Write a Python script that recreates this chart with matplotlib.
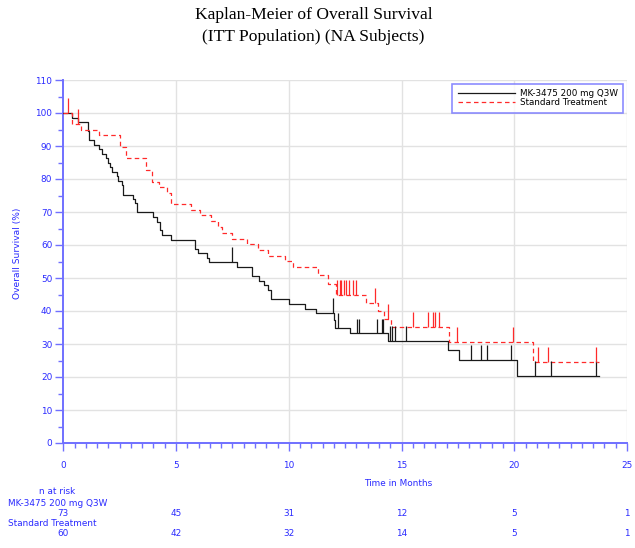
import numpy as np
import matplotlib
matplotlib.use("Agg")
import matplotlib.pyplot as plt
from matplotlib.lines import Line2D
from matplotlib.transforms import blended_transform_factory

# ---- data -------------------------------------------------------------
# MK-3475 200 mg Q3W arm: event times (months) and survival (%) after each step
mk_time = [0.0, 0.37, 0.64, 1.08, 1.15, 1.38, 1.60, 1.70, 1.90, 2.00, 2.07, 2.15,
           2.37, 2.44, 2.59, 2.66, 3.10, 3.18, 3.25, 3.99, 4.17, 4.29, 4.36, 4.76,
           5.84, 5.99, 6.39, 6.47, 7.72, 8.35, 8.69, 8.91, 9.09, 9.20, 10.02, 10.72,
           11.21, 12.00, 12.05, 12.71, 14.41, 17.07, 17.56, 20.11, 23.77]
mk_surv = [100.0, 98.6, 97.2, 94.5, 91.8, 90.4, 89.0, 87.7, 86.3, 84.9, 83.6, 82.2,
           80.8, 79.5, 78.1, 75.3, 74.0, 72.6, 69.9, 68.5, 67.1, 64.4, 63.0, 61.6,
           58.9, 57.5, 56.2, 54.8, 53.4, 50.6, 49.2, 47.8, 46.4, 43.6, 42.1, 40.7,
           39.3, 37.3, 34.8, 33.2, 30.9, 28.2, 25.2, 20.3, 20.3]
mk_censor = [7.47, 11.97, 12.20, 13.01, 13.13, 13.90, 14.12, 14.19, 14.49, 14.56,
             14.71, 15.18, 18.10, 18.51, 18.80, 19.84, 20.92, 21.63, 23.62]

# Standard Treatment arm
st_time = [0.0, 0.40, 0.78, 1.58, 2.51, 2.78, 3.65, 3.92, 4.26, 4.58, 4.78, 5.65,
           6.05, 6.53, 6.87, 7.02, 7.50, 8.13, 8.62, 9.08, 9.83, 10.20, 11.31, 11.72,
           12.08, 13.42, 13.97, 14.22, 14.52, 17.10, 20.82, 23.77]
st_surv = [100.0, 96.7, 94.9, 93.2, 89.7, 86.3, 82.7, 79.2, 77.5, 75.7, 72.4, 70.7,
           69.0, 67.3, 65.5, 63.7, 61.9, 60.2, 58.5, 56.8, 55.1, 53.4, 50.9, 48.2,
           44.8, 42.5, 40.1, 37.6, 35.2, 30.7, 24.6, 24.6]
st_censor = [0.19, 0.64, 12.13, 12.25, 12.32, 12.47, 12.54, 12.69, 12.84, 12.99,
             13.82, 14.41, 15.52, 16.19, 16.38, 16.48, 16.67, 17.44, 19.93, 21.04,
             21.51, 23.61]

arm_names = ["MK-3475 200 mg Q3W", "Standard Treatment"]
risk_times = [0, 5, 10, 15, 20, 25]
mk_at_risk = [73, 45, 31, 12, 5, 1]
st_at_risk = [60, 42, 32, 14, 5, 1]

# ---- style ------------------------------------------------------------
BLUE_TXT = "#2a2aff"
BLUE_AX = "#7070ff"
GRID = "#e2e2e2"
BLACK = "#1a1a1a"
RED = "#ff2a2a"
W, H = 635, 548

fig = plt.figure(figsize=(W / 100, H / 100), dpi=100)
ax = fig.add_axes([63.3 / W, 1 - 443 / H, (627 - 63.3) / W, (443 - 80) / H])

ax.set_xlim(0, 25)
ax.set_ylim(0, 110)

# grid
for yv in range(10, 111, 10):
    ax.axhline(yv, color=GRID, lw=1.0, zorder=0)
for xv in range(5, 26, 5):
    ax.axvline(xv, color=GRID, lw=1.0, zorder=0)

# survival curves
ax.step(mk_time, mk_surv, where="post", color=BLACK, lw=0.9, zorder=3)
ax.step(st_time, st_surv, where="post", color=RED, lw=0.9,
        dashes=(3.6, 2.6), zorder=3)


def level_at(times, surv, t):
    i = np.searchsorted(times, t, side="right") - 1
    return surv[i]


tick_h = 4.5
for c in mk_censor:
    lv = level_at(mk_time, mk_surv, c)
    ax.vlines(c, lv, lv + tick_h, color=BLACK, lw=0.9, zorder=3)
for c in st_censor:
    lv = level_at(st_time, st_surv, c)
    ax.vlines(c, lv, lv + tick_h, color=RED, lw=0.9, zorder=3)

# axes
for side in ["top", "right"]:
    ax.spines[side].set_visible(False)
for side in ["left", "bottom"]:
    ax.spines[side].set_color(BLUE_AX)
    ax.spines[side].set_linewidth(1.4)

ax.set_yticks(range(0, 111, 10))
ax.set_yticks(range(5, 110, 10), minor=True)
ax.set_xticks(range(0, 26, 5))
ax.set_xticks(np.arange(0, 25.01, 0.5), minor=True)
ax.tick_params(axis="both", which="major", length=6, width=1.0, color=BLUE_AX,
               labelcolor=BLUE_TXT, labelsize=6.4, direction="out")
ax.tick_params(axis="both", which="minor", length=3.5, width=1.0, color=BLUE_AX,
               direction="out")
ax.tick_params(axis="x", which="major", pad=7)
ax.tick_params(axis="y", which="major", pad=2)

fig.text(18 / W, 1 - 253 / H, "Overall Survival (%)", rotation=90, color=BLUE_TXT,
         fontsize=6.6, ha="center", va="center")
fig.text(398 / W, 1 - 483 / H, "Time in Months", color=BLUE_TXT, fontsize=6.4,
         ha="center", va="center")

# title
fig.text(313.5 / W, 1 - 15 / H, "Kaplan-Meier of Overall Survival",
         family="Liberation Serif", fontsize=12.6, ha="center", va="center")
fig.text(313.5 / W, 1 - 37 / H, "(ITT Population) (NA Subjects)",
         family="Liberation Serif", fontsize=12.6, ha="center", va="center")

# legend
handles = [Line2D([], [], color=BLACK, lw=0.9),
           Line2D([], [], color=RED, lw=0.9, dashes=(3.6, 2.6))]
leg = ax.legend(handles, arm_names, loc="upper right",
                bbox_to_anchor=(623 / W, 1 - 84 / H),
                bbox_transform=fig.transFigure, fontsize=6.3, frameon=True,
                fancybox=False, handlelength=6.5, handletextpad=0.6,
                borderpad=0.6, labelspacing=0.0, borderaxespad=0)
leg.get_frame().set_edgecolor(BLUE_AX)
leg.get_frame().set_linewidth(1.2)

# number at risk
bt = blended_transform_factory(ax.transData, fig.transFigure)
fig.text(57 / W, 1 - 492 / H, "n at risk", color=BLUE_TXT, fontsize=6.4,
         ha="center", va="center")
fig.text(8 / W, 1 - 503 / H, arm_names[0], color=BLUE_TXT, fontsize=6.4,
         ha="left", va="center")
fig.text(8 / W, 1 - 523 / H, arm_names[1], color=BLUE_TXT, fontsize=6.4,
         ha="left", va="center")
for t, n in zip(risk_times, mk_at_risk):
    ax.text(t, 1 - 513 / H, str(n), transform=bt, color=BLUE_TXT, fontsize=6.4,
            ha="center", va="center", clip_on=False)
for t, n in zip(risk_times, st_at_risk):
    ax.text(t, 1 - 534 / H, str(n), transform=bt, color=BLUE_TXT, fontsize=6.4,
            ha="center", va="center", clip_on=False)

fig.savefig("out.png", dpi=100)
